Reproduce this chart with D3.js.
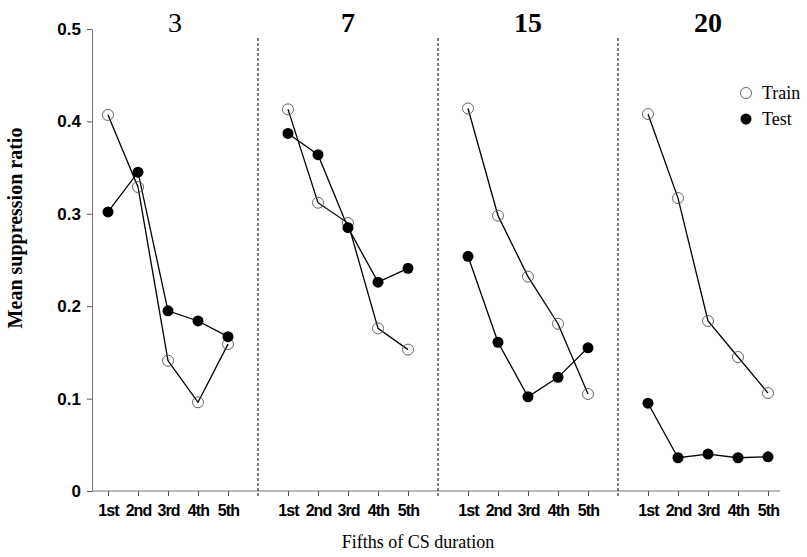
<!DOCTYPE html>
<html>
<head>
<meta charset="utf-8">
<script src="https://cdn.jsdelivr.net/npm/d3@7/dist/d3.min.js"></script>
<style>
  body { margin: 0; background: #fff; }
  svg { display: block; }
</style>
</head>
<body>
<div id="chart"></div>
<script>
////////////////////////////////////////////////////////////////////////
// Data

let panels = ["3", "7", "15", "20"];
let fifths = ["1st", "2nd", "3rd", "4th", "5th"];
let yTicks = [0, 0.1, 0.2, 0.3, 0.4, 0.5];

// one row per panel, one value per fifth
let train = [
  [0.407, 0.329, 0.141, 0.096, 0.159],
  [0.413, 0.312, 0.290, 0.176, 0.153],
  [0.414, 0.298, 0.232, 0.181, 0.105],
  [0.408, 0.317, 0.184, 0.145, 0.106]
];
let test = [
  [0.302, 0.345, 0.195, 0.184, 0.167],
  [0.387, 0.364, 0.285, 0.226, 0.241],
  [0.254, 0.161, 0.102, 0.123, 0.155],
  [0.095, 0.036, 0.040, 0.036, 0.037]
];
let legendNames = ["Train", "Test"];

////////////////////////////////////////////////////////////////////////
// Global variables, preliminaries

let width = 807, height = 557;
let axisX = 92;

let panelScale = d3.scaleBand().domain(panels).range([78, 798]);
let xScale = d3.scalePoint().domain(fifths).range([0, panelScale.bandwidth()]).padding(1);
let yScale = d3.scaleLinear().domain([0, 0.5]).range([491, 29]);

let sans = "'Liberation Sans', Arial, sans-serif";
let serif = "'Liberation Serif', 'Times New Roman', serif";

let svg = d3.select("#chart")
  .append("svg")
  .attr("width", width)
  .attr("height", height);

////////////////////////////////////////////////////////////////////////
// Y axis

let yAxis = svg.append("g")
  .attr("transform", "translate(" + axisX + ",0)")
  .call(d3.axisLeft(yScale)
    .tickValues(yTicks)
    .tickSize(5)
    .tickSizeOuter(0)
    .tickFormat(function(d) { return d === 0 ? "0" : d3.format(".1f")(d); }));

yAxis.select(".domain").attr("stroke", "#777");
yAxis.selectAll(".tick line").attr("stroke", "#555");
yAxis.selectAll(".tick text")
  .attr("x", -11)
  .attr("font-family", sans)
  .attr("font-weight", "bold")
  .attr("font-size", 17)
  .attr("fill", "#000");

svg.append("text")
  .attr("transform", "translate(22," + 228 + ") rotate(-90)")
  .attr("text-anchor", "middle")
  .attr("font-family", serif)
  .attr("font-weight", "bold")
  .attr("font-size", 20)
  .text("Mean suppression ratio");

////////////////////////////////////////////////////////////////////////
// X baseline, dividers, panel ticks

svg.append("line")
  .attr("x1", axisX)
  .attr("x2", panelScale("20") + xScale("5th") + 12)
  .attr("y1", yScale(0))
  .attr("y2", yScale(0))
  .attr("stroke", "#777");

svg.selectAll(".divider")
  .data(panels.slice(1))
  .enter()
  .append("line")
  .attr("class", "divider")
  .attr("x1", function(d) { return panelScale(d); })
  .attr("x2", function(d) { return panelScale(d); })
  .attr("y1", 38)
  .attr("y2", yScale(0) + 5)
  .attr("stroke", "#000")
  .attr("stroke-dasharray", "3,2");

let panelG = svg.selectAll(".panel")
  .data(panels)
  .enter()
  .append("g")
  .attr("class", "panel")
  .attr("transform", function(d) { return "translate(" + panelScale(d) + ",0)"; });

panelG.each(function(p, i) {
  let g = d3.select(this);

  let ax = g.append("g")
    .attr("transform", "translate(0," + yScale(0) + ")")
    .call(d3.axisBottom(xScale).tickSize(5).tickPadding(9));
  ax.select(".domain").remove();
  ax.selectAll(".tick line").attr("stroke", "#555");
  ax.selectAll(".tick text")
    .attr("font-family", sans)
    .attr("font-weight", "bold")
    .attr("font-size", 16)
    .attr("letter-spacing", -0.9)
    .attr("fill", "#000");

  // title centred over the visible part of the panel
  let left = i === 0 ? axisX - panelScale(p) : 0;
  g.append("text")
    .attr("x", (left + panelScale.bandwidth()) / 2)
    .attr("y", 32)
    .attr("text-anchor", "middle")
    .attr("font-family", serif)
    .attr("font-weight", i === 0 ? "normal" : "bold")
    .attr("font-size", 28)
    .text(p);

  let line = d3.line()
    .x(function(d, j) { return xScale(fifths[j]); })
    .y(function(d) { return yScale(d); });

  g.append("path")
    .datum(train[i])
    .attr("d", line)
    .attr("fill", "none")
    .attr("stroke", "#000")
    .attr("stroke-width", 1.3);

  g.append("path")
    .datum(test[i])
    .attr("d", line)
    .attr("fill", "none")
    .attr("stroke", "#000")
    .attr("stroke-width", 1.3);

  g.selectAll(".trainPt")
    .data(train[i])
    .enter()
    .append("circle")
    .attr("cx", function(d, j) { return xScale(fifths[j]); })
    .attr("cy", function(d) { return yScale(d); })
    .attr("r", 5.5)
    .attr("fill", "none")
    .attr("stroke", "#555")
    .attr("stroke-width", 0.9);

  g.selectAll(".testPt")
    .data(test[i])
    .enter()
    .append("circle")
    .attr("cx", function(d, j) { return xScale(fifths[j]); })
    .attr("cy", function(d) { return yScale(d); })
    .attr("r", 5.5)
    .attr("fill", "#000");
});

svg.append("text")
  .attr("x", 418)
  .attr("y", 548)
  .attr("text-anchor", "middle")
  .attr("font-family", serif)
  .attr("font-size", 18)
  .text("Fifths of CS duration");

////////////////////////////////////////////////////////////////////////
// Legend

let legend = svg.selectAll(".legend")
  .data(legendNames)
  .enter()
  .append("g")
  .attr("class", "legend")
  .attr("transform", function(d, i) { return "translate(746," + (93 + i * 26) + ")"; });

legend.append("circle")
  .attr("r", 5.5)
  .attr("fill", function(d, i) { return i === 0 ? "none" : "#000"; })
  .attr("stroke", function(d, i) { return i === 0 ? "#555" : "none"; })
  .attr("stroke-width", 0.9);

legend.append("text")
  .attr("x", 16)
  .attr("y", 6)
  .attr("font-family", serif)
  .attr("font-size", 18)
  .text(function(d) { return d; });
</script>
</body>
</html>
